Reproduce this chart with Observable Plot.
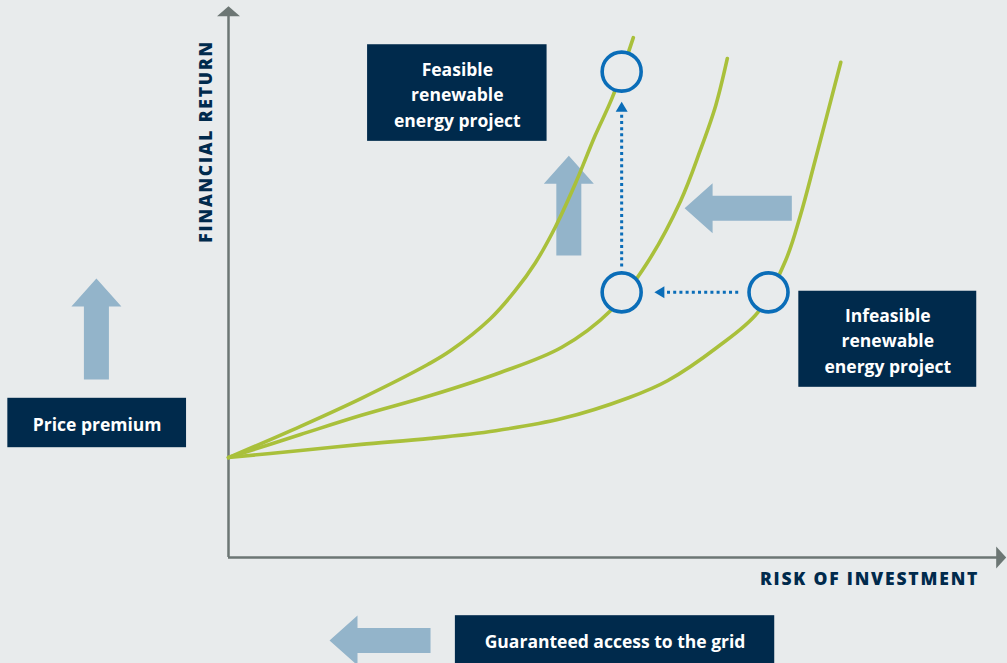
<!DOCTYPE html>
<html>
<head>
<meta charset="utf-8">
<script src="https://cdn.jsdelivr.net/npm/d3@7"></script>
<script src="https://cdn.jsdelivr.net/npm/@observablehq/plot@0.6"></script>
<style>
  html, body { margin: 0; padding: 0; background: #e8ebec; }
  #chart svg { display: block; background: #e8ebec; }
</style>
</head>
<body>
<div id="chart"></div>
<script>
// ---- Data (conceptual units: risk 0–100 on x, return 0–100 on y) ----
const curveNames = ["high", "mid", "low"];
const curveHighRisk   = [0, 9.27, 17.1, 25.7, 28.6, 33.7, 36.9, 39.5, 42.1, 44.7, 47.2, 49.4, 52.1];
const curveHighReturn = [18.2, 23.9, 29.0, 35.2, 37.7, 43.5, 48.6, 53.7, 60.3, 68.3, 76.9, 83.8, 94.7];
const curveMidRisk    = [0, 9.27, 17.1, 26.0, 35.0, 42.9, 49.2, 53.9, 58.2, 60.7, 62.7, 64.2];
const curveMidReturn  = [18.2, 22.4, 25.9, 29.5, 33.7, 38.3, 45.0, 53.7, 65.0, 74.1, 82.3, 90.9];
const curveLowRisk    = [0, 9.27, 17.1, 26.0, 34.4, 42.9, 51.5, 56.5, 62.9, 68.1, 71.7, 73.6, 75.5, 78.8];
const curveLowReturn  = [18.2, 19.5, 20.6, 21.7, 23.1, 25.3, 29.1, 32.2, 38.3, 44.6, 54.1, 62.3, 72.3, 90.2];

const projectRisk   = [50.6, 50.6, 69.5];
const projectReturn = [88.5, 48.3, 48.3];

// block arrows: tail -> tip
const blockArrowTail = [[-17.0, 32.4], [43.8, 55.0], [72.5, 63.6], [26.0, -15.1]];
const blockArrowTip  = [[-17.0, 50.8], [43.8, 73.2], [58.7, 63.6], [13.0, -15.1]];

// dotted arrows: tail -> base of the head
const dottedTail = [[50.6, 53.0], [65.6, 48.3]];
const dottedTip  = [[50.6, 81.2], [56.1, 48.3]];

// label boxes
const boxText = ["Feasible\nrenewable\nenergy project", "Infeasible\nrenewable\nenergy project", "Price premium", "Guaranteed access to the grid"];
const boxX1 = [17.9, 73.4, -28.4, 29.2];
const boxX2 = [41.0, 96.3, -5.4, 70.3];
const boxY1 = [75.8, 31.0, 20.0, -20.0];
const boxY2 = [93.4, 48.5, 29.0, -10.6];

const xTitle = "RISK OF INVESTMENT";
const yTitle = "FINANCIAL RETURN";

// ---- Layout ----
const W = 1007, H = 663;
const mL = 228, mR = 2, mT = 8, mB = 106;
const kx = (W - mL - mR) / 100;   // px per x unit
const ky = (H - mT - mB) / 100;   // px per y unit
const yMinVisible = -mB / ky;

const GREEN = "#a9c03b", NAVY = "#002a4c", BLUE = "#0a6db8", ARROW = "#93b4ca", AXIS = "#6c7674", BG = "#e8ebec";
const FONT = "'Open Sans', sans-serif";

// polygon for an arrow, computed in px then returned in data units
function arrowPoly(id, tail, tip, shaftW, headW, headL) {
  const x1 = tail[0] * kx, y1 = -tail[1] * ky, x2 = tip[0] * kx, y2 = -tip[1] * ky;
  const dx = x2 - x1, dy = y2 - y1, L = Math.hypot(dx, dy);
  const ux = dx / L, uy = dy / L, px = -uy, py = ux;
  const nx = x2 - ux * headL, ny = y2 - uy * headL;
  const pts = [
    [x1 + px * shaftW / 2, y1 + py * shaftW / 2],
    [nx + px * shaftW / 2, ny + py * shaftW / 2],
    [nx + px * headW / 2, ny + py * headW / 2],
    [x2, y2],
    [nx - px * headW / 2, ny - py * headW / 2],
    [nx - px * shaftW / 2, ny - py * shaftW / 2],
    [x1 - px * shaftW / 2, y1 - py * shaftW / 2]
  ];
  return pts.map(([a, b]) => ({id, x: a / kx, y: -b / ky}));
}
// head-only triangle placed beyond a base point, along tail->base direction
function headBeyond(id, tail, base, headW, headL) {
  const dx = (base[0] - tail[0]) * kx, dy = (base[1] - tail[1]) * ky, L = Math.hypot(dx, dy);
  const tip = [base[0] + dx / L * headL / kx, base[1] + dy / L * headL / ky];
  return arrowPoly(id, base, tip, 0, headW, headL);
}

const curves = [
  ...curveHighRisk.map((x, i) => ({name: curveNames[0], x, y: curveHighReturn[i]})),
  ...curveMidRisk.map((x, i) => ({name: curveNames[1], x, y: curveMidReturn[i]})),
  ...curveLowRisk.map((x, i) => ({name: curveNames[2], x, y: curveLowReturn[i]}))
];
const projects = projectRisk.map((x, i) => ({x, y: projectReturn[i]}));
const blocks = blockArrowTail.flatMap((t, i) => arrowPoly("b" + i, t, blockArrowTip[i], 25, 50, 28));
const dotted = dottedTail.map((t, i) => ({x1: t[0], y1: t[1], x2: dottedTip[i][0], y2: dottedTip[i][1]}));
const dottedHeads = dottedTip.flatMap((t, i) => headBeyond("d" + i, dottedTail[i], t, 12, 10));
const axisHeads = [
  ...headBeyond("ax", [0, 0], [98.8, 0], 22, 10),
  ...headBeyond("ay", [0, 0], [0, 98.6], 23, 10)
];
const boxes = boxText.map((t, i) => ({text: t, x1: boxX1[i], x2: boxX2[i], y1: boxY1[i], y2: boxY2[i]}));

const chart = Plot.plot({
  width: W, height: H,
  marginLeft: mL, marginRight: mR, marginTop: mT, marginBottom: mB,
  x: {domain: [0, 100], axis: null},
  y: {domain: [0, 100], axis: null},
  style: {background: BG, fontFamily: FONT},
  marks: [
    // axes
    Plot.ruleX([0], {y1: 0, y2: 98.8, stroke: AXIS, strokeWidth: 2.5}),
    Plot.ruleY([0], {x1: 0, x2: 99, stroke: AXIS, strokeWidth: 2.5}),
    Plot.line(axisHeads, {x: "x", y: "y", z: "id", fill: AXIS, stroke: "none", curve: "linear-closed"}),
    // block arrows
    Plot.line(blocks, {x: "x", y: "y", z: "id", fill: ARROW, stroke: "none", curve: "linear-closed"}),
    // curves
    Plot.line(curves, {x: "x", y: "y", z: "name", stroke: GREEN, strokeWidth: 3.6, curve: "catmull-rom"}),
    // dotted arrows
    Plot.link(dotted, {x1: "x1", y1: "y1", x2: "x2", y2: "y2", stroke: BLUE, strokeWidth: 3, strokeDasharray: "3 3.2"}),
    Plot.line(dottedHeads, {x: "x", y: "y", z: "id", fill: BLUE, stroke: "none", curve: "linear-closed"}),
    // project circles
    Plot.dot(projects, {x: "x", y: "y", r: 19.5, stroke: BLUE, strokeWidth: 3.6, fill: BG}),
    // boxes
    Plot.rect(boxes, {x1: "x1", x2: "x2", y1: "y1", y2: "y2", fill: NAVY}),
    Plot.text(boxes, {x: d => (d.x1 + d.x2) / 2, y: d => (Math.max(d.y1, yMinVisible) + d.y2) / 2, text: "text",
      fill: "white", fontSize: 17.5, fontWeight: 700, lineHeight: 1.46, fontFamily: FONT}),
    // axis titles
    Plot.text([xTitle], {x: 82.5, y: -4.0, text: d => d, fill: NAVY, fontSize: 17.5, fontWeight: 800, fontFamily: FONT}),
    Plot.text([yTitle], {x: -2.8, y: 75.8, text: d => d, rotate: -90, fill: NAVY, fontSize: 17.5, fontWeight: 800, fontFamily: FONT})
  ]
});
chart.querySelectorAll("text").forEach(t => {
  if (t.textContent === xTitle || t.textContent === yTitle) t.setAttribute("letter-spacing", "1.8");
});
document.getElementById("chart").appendChild(chart);
</script>
</body>
</html>
